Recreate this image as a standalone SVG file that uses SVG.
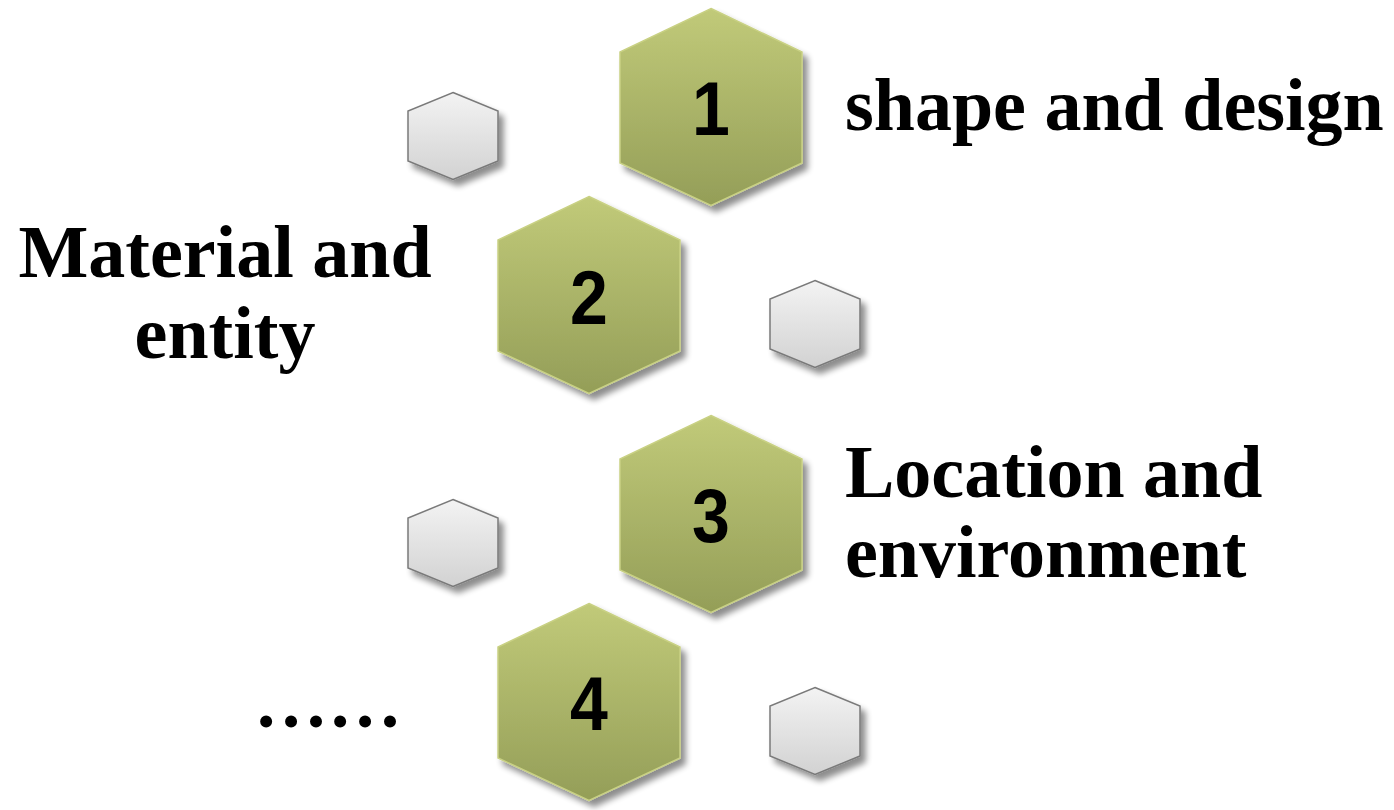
<svg xmlns="http://www.w3.org/2000/svg" width="1394" height="810" viewBox="0 0 1394 810">
<defs>
<linearGradient id="gGreen" x1="0" y1="0" x2="0" y2="1">
<stop offset="0" stop-color="#c1ca79"/>
<stop offset="1" stop-color="#949e58"/>
</linearGradient>
<linearGradient id="gGray" x1="0" y1="0" x2="0" y2="1">
<stop offset="0" stop-color="#f3f3f3"/>
<stop offset="1" stop-color="#d2d2d2"/>
</linearGradient>
<filter id="shadow" x="-20%" y="-20%" width="150%" height="150%">
<feGaussianBlur in="SourceAlpha" stdDeviation="3"/>
<feOffset dx="5" dy="6" result="b"/>
<feComponentTransfer><feFuncA type="linear" slope="0.45"/></feComponentTransfer>
<feMerge><feMergeNode/><feMergeNode in="SourceGraphic"/></feMerge>
</filter>
<polygon id="bigHex" points="0,-98.5 91,-55 91,56 0,98.5 -91,56 -91,-55"/>
<polygon id="smallHex" points="0,-43.5 45,-25 45,25 0,43.5 -45,25 -45,-25"/>
</defs>
<style>
.big{fill:url(#gGreen);stroke:#c9d184;stroke-width:1.5;filter:url(#shadow)}
.small{fill:url(#gGray);stroke:#7a7a7a;stroke-width:1.5;filter:url(#shadow)}
.num{font-family:"Liberation Sans",Arial,sans-serif;font-weight:bold;font-size:68px;fill:#000;text-anchor:middle}
.lbl{font-family:"Liberation Serif","Times New Roman",serif;font-weight:bold;font-size:74px;fill:#000}
</style>
<g id="connectors"/>
<g id="small1"><use href="#smallHex" class="small" transform="translate(453,136)"/></g>
<g id="small2"><use href="#smallHex" class="small" transform="translate(815,324)"/></g>
<g id="small3"><use href="#smallHex" class="small" transform="translate(453,543)"/></g>
<g id="small4"><use href="#smallHex" class="small" transform="translate(815,731)"/></g>
<g id="node1"><use href="#bigHex" class="big" transform="translate(711,107)"/>
<text class="num" transform="translate(711,135) scale(1,1.13)">1</text></g>
<g id="node2"><use href="#bigHex" class="big" transform="translate(589,295)"/>
<text class="num" transform="translate(589,324) scale(1,1.13)">2</text></g>
<g id="node3"><use href="#bigHex" class="big" transform="translate(711,514)"/>
<text class="num" transform="translate(711,542) scale(1,1.13)">3</text></g>
<g id="node4"><use href="#bigHex" class="big" transform="translate(589,702)"/>
<text class="num" transform="translate(589,730) scale(1,1.13)">4</text></g>
<g id="label1"><text class="lbl" x="845" y="130">shape and design</text></g>
<g id="label2"><text class="lbl" text-anchor="middle" x="225" y="277">Material and</text>
<text class="lbl" text-anchor="middle" x="225" y="358">entity</text></g>
<g id="label3"><text class="lbl" x="845" y="497">Location and</text>
<text class="lbl" x="845" y="577">environment</text></g>
<g id="label4"><text class="lbl" x="254" y="727">……</text></g>
</svg>
